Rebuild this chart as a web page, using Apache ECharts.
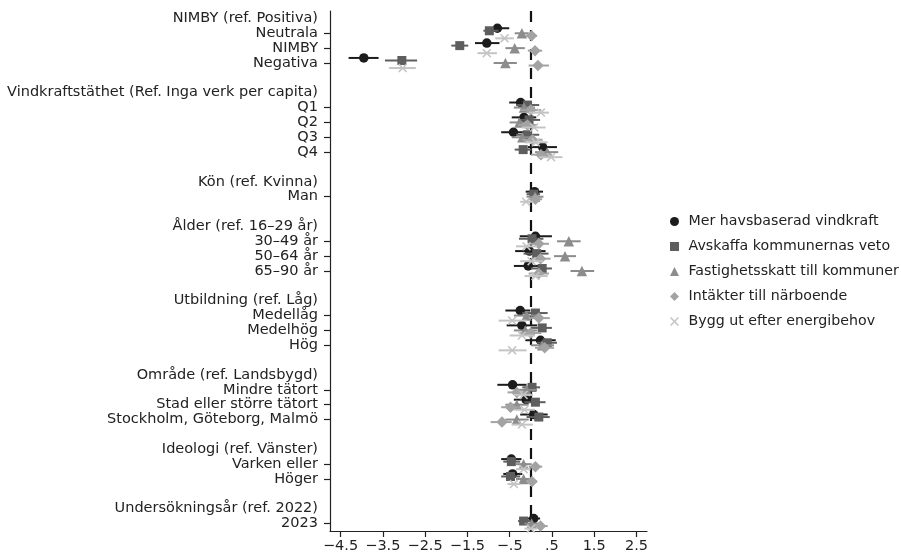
<!DOCTYPE html>
<html>
<head>
<meta charset="utf-8">
<script src="https://cdn.jsdelivr.net/npm/echarts@6.0.0/dist/echarts.min.js"></script>
<style>
  html, body { margin: 0; padding: 0; background: #fff; }
  #chart { width: 901px; height: 557px; }
</style>
</head>
<body>
<div id="chart"></div>
<script>
// rad-etiketter (index = rad på y-axeln, tomma = mellanrum)
const rowLabels = [
  'NIMBY (ref. Positiva)', 'Neutrala', 'NIMBY', 'Negativa', '',
  'Vindkraftstäthet (Ref. Inga verk per capita)', 'Q1', 'Q2', 'Q3', 'Q4', '',
  'Kön (ref. Kvinna)', 'Man', '',
  'Ålder (ref. 16–29 år)', '30–49 år', '50–64 år', '65–90 år', '',
  'Utbildning (ref. Låg)', 'Medellåg', 'Medelhög', 'Hög', '',
  'Område (ref. Landsbygd)', 'Mindre tätort', 'Stad eller större tätort', 'Stockholm, Göteborg, Malmö', '',
  'Ideologi (ref. Vänster)', 'Varken eller', 'Höger', '',
  'Undersökningsår (ref. 2022)', '2023'
];
// rader som har koefficienter
const itemRows = [1, 2, 3, 6, 7, 8, 9, 12, 15, 16, 17, 20, 21, 22, 25, 26, 27, 30, 31, 34];

const seriesNames = [
  'Mer havsbaserad vindkraft',
  'Avskaffa kommunernas veto',
  'Fastighetsskatt till kommuner',
  'Intäkter till närboende',
  'Bygg ut efter energibehov'
];

// koefficienter + konfidensintervall per serie (samma ordning som itemRows)
const coefHav = [-0.79, -1.04, -3.95, -0.24, -0.16, -0.41, 0.28, 0.09, 0.11, -0.03, -0.06, -0.25, -0.21, 0.23, -0.43, -0.11, 0.07, -0.46, -0.43, 0.07];
const loHav   = [-1.08, -1.32, -4.31, -0.51, -0.45, -0.7, -0.07, -0.12, -0.26, -0.37, -0.4, -0.6, -0.57, -0.13, -0.79, -0.4, -0.25, -0.7, -0.65, -0.08];
const hiHav   = [-0.51, -0.74, -3.6, 0.03, 0.13, -0.13, 0.62, 0.29, 0.5, 0.35, 0.26, -0.01, 0.15, 0.59, -0.1, 0.15, 0.4, -0.22, -0.2, 0.22];

const coefVeto = [-0.98, -1.68, -3.05, -0.08, -0.04, -0.08, -0.18, 0.07, 0.03, 0.14, 0.27, 0.11, 0.27, 0.39, 0.03, 0.11, 0.19, -0.46, -0.48, -0.17];
const loVeto   = [-1.12, -1.88, -3.45, -0.35, -0.3, -0.35, -0.38, -0.1, -0.28, -0.17, 0.0, -0.2, 0.0, 0.15, -0.2, -0.15, -0.1, -0.65, -0.7, -0.3];
const hiVeto   = [-0.76, -1.48, -2.69, 0.2, 0.22, 0.2, 0.02, 0.22, 0.3, 0.42, 0.5, 0.4, 0.5, 0.62, 0.22, 0.35, 0.45, -0.25, -0.25, -0.02];

const coefSkatt = [-0.21, -0.38, -0.6, -0.16, -0.27, -0.2, 0.39, 0.1, 0.9, 0.81, 1.21, -0.1, -0.13, 0.27, -0.1, -0.33, -0.33, -0.17, -0.17, 0.02];
const loSkatt   = [-0.38, -0.6, -0.88, -0.4, -0.5, -0.45, 0.1, -0.1, 0.62, 0.55, 0.94, -0.4, -0.4, 0.0, -0.35, -0.6, -0.6, -0.35, -0.35, -0.15];
const hiSkatt   = [-0.05, -0.14, -0.33, 0.1, -0.02, 0.05, 0.65, 0.3, 1.18, 1.07, 1.5, 0.2, 0.15, 0.55, 0.15, -0.05, -0.05, 0.02, 0.0, 0.18];

const coefNara = [0.02, 0.1, 0.17, 0.0, -0.08, 0.04, 0.24, 0.11, 0.19, 0.23, 0.19, 0.19, 0.0, 0.33, -0.33, -0.48, -0.68, 0.11, 0.03, 0.23];
const loNara   = [-0.12, -0.07, -0.05, -0.25, -0.3, -0.2, 0.0, -0.05, -0.05, 0.0, -0.05, -0.05, -0.25, 0.1, -0.55, -0.7, -0.95, -0.05, -0.1, 0.05];
const hiNara   = [0.15, 0.27, 0.43, 0.25, 0.15, 0.28, 0.5, 0.27, 0.43, 0.47, 0.43, 0.45, 0.25, 0.55, -0.1, -0.25, -0.45, 0.27, 0.15, 0.4];

const coefBehov = [-0.62, -1.04, -3.03, 0.24, 0.08, 0.12, 0.48, -0.11, -0.1, 0.02, 0.11, -0.44, -0.21, -0.44, -0.17, -0.15, -0.21, -0.17, -0.4, 0.0];
const loBehov   = [-0.84, -1.26, -3.35, -0.05, -0.22, -0.15, 0.2, -0.25, -0.35, -0.25, -0.15, -0.76, -0.5, -0.76, -0.4, -0.4, -0.45, -0.35, -0.55, -0.15];
const hiBehov   = [-0.4, -0.8, -2.72, 0.43, 0.35, 0.4, 0.75, 0.05, 0.15, 0.3, 0.4, -0.1, 0.1, -0.1, 0.05, 0.1, 0.05, 0.0, -0.25, 0.15];

// x-axelns etiketter (halvsteg emellan utan etikett)
const xTicks = [-4.5, -3.5, -2.5, -1.5, -0.5, 0.5, 1.5, 2.5];

const FONT = '"DejaVu Sans", "Liberation Sans", Arial, sans-serif';
const FS = 14.5;
const colors = ['#1c1c1c', '#5e5e5e', '#8c8c8c', '#a3a3a3', '#c4c4c4'];
const symbols = [
  'circle', 'rect', 'triangle', 'diamond',
  'path://M0,1.2L1.2,0L5,3.8L8.8,0L10,1.2L6.2,5L10,8.8L8.8,10L5,6.2L1.2,10L0,8.8L3.8,5Z'
];
const sizes = [9.5, 9, 10.5, 11.5, 9];
const offsets = [-0.34, -0.17, 0, 0.17, 0.34];

const allCoef = [coefHav, coefVeto, coefSkatt, coefNara, coefBehov];
const allLo = [loHav, loVeto, loSkatt, loNara, loBehov];
const allHi = [hiHav, hiVeto, hiSkatt, hiNara, hiBehov];

function fmtX(v) {
  if (v === '') return '';
  const n = Number(v);
  const s = String(Math.abs(n)).replace(/^0\./, '.');
  return (n < 0 ? '\u2212' : '') + s;
}

// kategori-axel för x: tick-etiketter med tomma halvsteg emellan
const xCats = [];
xTicks.forEach((t, i) => {
  xCats.push(String(t));
  if (i < xTicks.length - 1) xCats.push('');
});
const xMin = xTicks[0] - 0.25;
const xMax = xTicks[xTicks.length - 1] + 0.25;

const series = [];
seriesNames.forEach((name, s) => {
  const bars = itemRows.map((r, i) => [allLo[s][i], allHi[s][i], r + offsets[s]]);
  series.push({
    type: 'custom',
    name: name + ' ci',
    silent: true,
    xAxisIndex: 0,
    yAxisIndex: 0,
    z: 2 + s * 2,
    data: bars,
    encode: { x: [0, 1], y: 2 },
    renderItem: function (params, api) {
      const p1 = api.coord([api.value(0), api.value(2)]);
      const p2 = api.coord([api.value(1), api.value(2)]);
      return {
        type: 'line',
        shape: { x1: p1[0], y1: p1[1], x2: p2[0], y2: p2[1] },
        style: { stroke: colors[s], lineWidth: 2 }
      };
    }
  });
  const sc = {
    type: 'scatter',
    name: name,
    xAxisIndex: 0,
    yAxisIndex: 0,
    z: 3 + s * 2,
    symbol: symbols[s],
    symbolSize: sizes[s],
    itemStyle: { color: colors[s], opacity: 1 },
    data: itemRows.map((r, i) => [allCoef[s][i], r + offsets[s]])
  };
  if (s === 0) {
    sc.markLine = {
      silent: true,
      symbol: 'none',
      z: 1,
      label: { show: false },
      lineStyle: { color: '#111', width: 2.2, type: [11, 8] },
      data: [{ xAxis: 0 }]
    };
  }
  series.push(sc);
});

const axisColor = '#222';
const chart = echarts.init(document.getElementById('chart'));
chart.setOption({
  animation: false,
  backgroundColor: '#fff',
  textStyle: { fontFamily: FONT },
  grid: { left: 330, right: 254, top: 11, bottom: 26 },
  legend: {
    orient: 'vertical',
    left: 665,
    top: 208,
    itemWidth: 9,
    itemHeight: 9,
    itemGap: 8,
    data: seriesNames,
    formatter: n => ' ' + n,
    textStyle: { fontFamily: FONT, fontSize: 14.2, color: '#222', lineHeight: 17 }
  },
  xAxis: [
    { type: 'value', min: xMin, max: xMax, show: false },
    {
      type: 'category',
      position: 'bottom',
      data: xCats,
      boundaryGap: true,
      axisLine: { show: true, onZero: false, lineStyle: { color: axisColor, width: 1.2 } },
      axisTick: {
        show: true, length: 6, alignWithLabel: true,
        interval: (i, v) => v !== '',
        lineStyle: { color: axisColor, width: 1.2 }
      },
      axisLabel: {
        interval: (i, v) => v !== '',
        formatter: fmtX,
        fontSize: FS, color: '#222', margin: 8, fontFamily: FONT
      },
      splitLine: { show: false }
    }
  ],
  yAxis: [
    { type: 'value', inverse: true, min: -0.5, max: 34.5, show: false },
    {
      type: 'category',
      inverse: true,
      position: 'left',
      data: rowLabels.map((l, i) => String(i)),
      boundaryGap: true,
      axisLine: { show: true, lineStyle: { color: axisColor, width: 1.2 } },
      axisTick: {
        show: true, length: 6, alignWithLabel: true,
        interval: i => itemRows.indexOf(i) >= 0,
        lineStyle: { color: axisColor, width: 1.2 }
      },
      axisLabel: {
        interval: 0,
        formatter: v => rowLabels[Number(v)],
        fontSize: FS, color: '#222', margin: 12, fontFamily: FONT
      },
      splitLine: { show: false }
    }
  ],
  series: series
});
</script>
</body>
</html>
